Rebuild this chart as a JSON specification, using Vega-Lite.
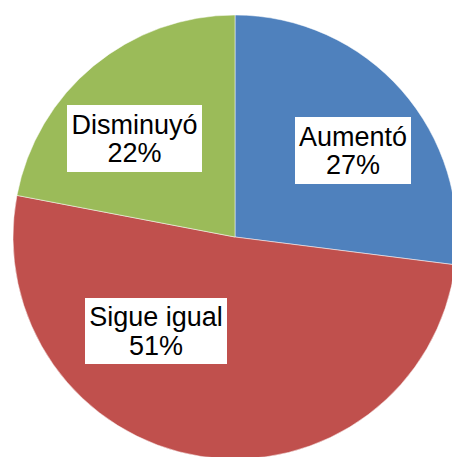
{
  "$schema": "https://vega.github.io/schema/vega-lite/v6.json",
  "width": 452,
  "height": 457,
  "autosize": {"type": "fit", "contains": "padding"},
  "padding": {"left": 18, "top": 17, "right": 0, "bottom": 0},
  "background": "white",
  "config": {"view": {"stroke": null}},
  "data": {
    "values": [
      {"category": "Aumentó", "value": 0.27, "order": 1},
      {"category": "Sigue igual", "value": 0.51, "order": 2},
      {"category": "Disminuyó", "value": 0.22, "order": 3}
    ]
  },
  "layer": [
    {
      "mark": {"type": "arc", "radius": 222, "stroke": "white", "strokeWidth": 0.5},
      "encoding": {
        "theta": {"field": "value", "type": "quantitative", "stack": true},
        "color": {
          "field": "category",
          "type": "nominal",
          "scale": {"domain": ["Aumentó", "Sigue igual", "Disminuyó"], "range": ["#4F81BD", "#C0504D", "#9BBB59"]},
          "legend": null
        },
        "order": {"field": "order", "type": "quantitative"}
      }
    },
    {
      "transform": [{"filter": "datum.category === 'Aumentó'"}],
      "layer": [
        {
          "mark": {"type": "point", "shape": "M-1,-0.5776L1,-0.5776L1,0.5776L-1,0.5776Z", "size": 13456, "filled": true, "fill": "white", "opacity": 1, "strokeWidth": 0, "xOffset": 118, "yOffset": -86.5},
          "encoding": {}
        },
        {
          "mark": {"type": "text", "font": "Liberation Sans", "fontSize": 27, "baseline": "alphabetic", "align": "center", "color": "#000000", "xOffset": 118, "yOffset": -91.5},
          "encoding": {"text": {"field": "category", "type": "nominal"}}
        },
        {
          "mark": {"type": "text", "font": "Liberation Sans", "fontSize": 27, "baseline": "alphabetic", "align": "center", "color": "#000000", "xOffset": 118, "yOffset": -63},
          "encoding": {"text": {"field": "value", "type": "quantitative", "format": ".0%"}}
        }
      ]
    },
    {
      "transform": [{"filter": "datum.category === 'Disminuyó'"}],
      "layer": [
        {
          "mark": {"type": "point", "shape": "M-1,-0.4963L1,-0.4963L1,0.4963L-1,0.4963Z", "size": 18225, "filled": true, "fill": "white", "opacity": 1, "strokeWidth": 0, "xOffset": -100.5, "yOffset": -98.5},
          "encoding": {}
        },
        {
          "mark": {"type": "text", "font": "Liberation Sans", "fontSize": 27, "baseline": "alphabetic", "align": "center", "color": "#000000", "xOffset": -100.5, "yOffset": -103.5},
          "encoding": {"text": {"field": "category", "type": "nominal"}}
        },
        {
          "mark": {"type": "text", "font": "Liberation Sans", "fontSize": 27, "baseline": "alphabetic", "align": "center", "color": "#000000", "xOffset": -100.5, "yOffset": -75},
          "encoding": {"text": {"field": "value", "type": "quantitative", "format": ".0%"}}
        }
      ]
    },
    {
      "transform": [{"filter": "datum.category === 'Sigue igual'"}],
      "layer": [
        {
          "mark": {"type": "point", "shape": "M-1,-0.4648L1,-0.4648L1,0.4648L-1,0.4648Z", "size": 20164, "filled": true, "fill": "white", "opacity": 1, "strokeWidth": 0, "xOffset": -79, "yOffset": 94},
          "encoding": {}
        },
        {
          "mark": {"type": "text", "font": "Liberation Sans", "fontSize": 27, "baseline": "alphabetic", "align": "center", "color": "#000000", "xOffset": -79, "yOffset": 89},
          "encoding": {"text": {"field": "category", "type": "nominal"}}
        },
        {
          "mark": {"type": "text", "font": "Liberation Sans", "fontSize": 27, "baseline": "alphabetic", "align": "center", "color": "#000000", "xOffset": -79, "yOffset": 117.5},
          "encoding": {"text": {"field": "value", "type": "quantitative", "format": ".0%"}}
        }
      ]
    }
  ]
}
